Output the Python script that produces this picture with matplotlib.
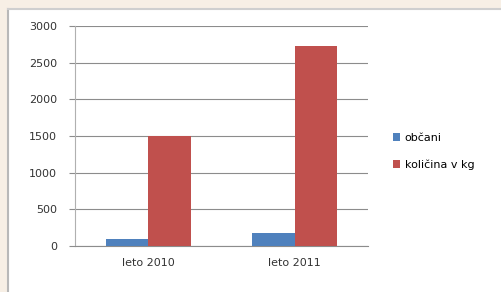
import numpy as np
import matplotlib.pyplot as plt
from matplotlib.patches import Rectangle

categories = ['leto 2010', 'leto 2011']
obcani = [100, 180]
kolicina = [1500, 2730]
series_names = ['občani', 'količina v kg']
yticks = [0, 500, 1000, 1500, 2000, 2500, 3000]

fig = plt.figure(figsize=(5.01, 2.92), dpi=100, facecolor='#f7efe5')

# white panel with grey border on top/left
W, H = 501, 292
fig.patches.append(Rectangle((8/W, 0), 1 - 8/W, 1 - 9/H, transform=fig.transFigure,
                             facecolor='white', edgecolor='none', zorder=-5))
fig.lines.append(plt.Line2D([8/W, 8/W], [0, 1 - 9/H], transform=fig.transFigure,
                            color='#b8b8b8', lw=1.5, zorder=-4))
fig.lines.append(plt.Line2D([8/W, 1], [1 - 9/H, 1 - 9/H], transform=fig.transFigure,
                            color='#cfcfcf', lw=1.5, zorder=-4))

ax = fig.add_axes([75/W, 1 - 246/H, (368 - 75)/W, 220/H])
ax.set_facecolor('none')

x = np.arange(len(categories))
w = 0.29
ax.bar(x - w/2, obcani, w, color='#4f81bd', label=series_names[0], zorder=3)
ax.bar(x + w/2, kolicina, w, color='#c0504d', label=series_names[1], zorder=3)

ax.set_xlim(-0.5, 1.5)
ax.set_ylim(0, 3000)
ax.set_yticks(yticks)
ax.set_xticks(x)
ax.set_xticklabels(categories)
ax.yaxis.grid(True, color='#8c8c8c', lw=0.8, zorder=0)
ax.tick_params(axis='both', labelsize=8, colors='#333333', length=4, width=0.8)
ax.tick_params(axis='x', length=0, pad=9)
ax.tick_params(axis='y', color='#8c8c8c', pad=9)
for s in ['top', 'right']:
    ax.spines[s].set_visible(False)
ax.spines['left'].set_color('#b0b0b0')
ax.spines['bottom'].set_color('#8c8c8c')
ax.spines['left'].set_linewidth(0.8)
ax.spines['bottom'].set_linewidth(0.8)

ax.legend(loc='center left', bbox_to_anchor=(1.05, 0.43), frameon=False,
          fontsize=8, handlelength=0.7, handleheight=0.7, labelspacing=1.55,
          handletextpad=0.4)

fig.savefig('out.png', dpi=100, facecolor=fig.get_facecolor())
